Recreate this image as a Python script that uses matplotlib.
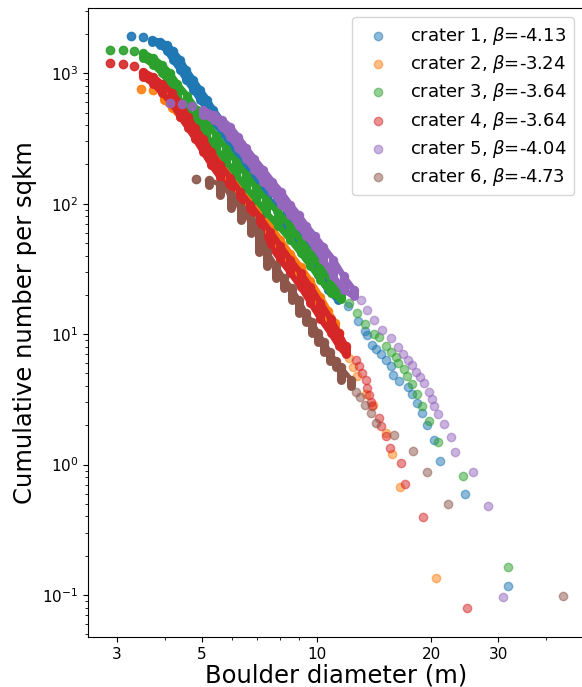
import matplotlib
matplotlib.use('Agg')
import matplotlib.pyplot as plt
from matplotlib.ticker import NullFormatter

labels = ['crater 1, $\\beta$=-4.13', 'crater 2, $\\beta$=-3.24', 'crater 3, $\\beta$=-3.64',
          'crater 4, $\\beta$=-3.64', 'crater 5, $\\beta$=-4.04', 'crater 6, $\\beta$=-4.73']
colors = ['#1f77b4', '#ff7f0e', '#2ca02c', '#d62728', '#9467bd', '#8c564b']

# leading isolated points (smallest diameters)
c1_head_d = [3.26, 3.50]
c1_head_n = [1915, 1882]
# dense part: diameters of columns, cumulative density at column tops (+ final bottom)
c1_col_d = [3.70, 3.89, 4.05, 4.20, 4.39, 4.55, 4.75, 4.95, 5.17, 5.36, 5.66, 5.94,
            6.23, 6.58, 6.99, 7.43, 7.90, 8.39, 8.91, 9.47, 10.06, 10.69, 11.36]
c1_col_n = [1807, 1744, 1655, 1488, 1269, 1064, 892, 747, 626, 525, 425, 350, 283, 229,
            182, 145, 113, 88.2, 67.6, 51.1, 38.5, 28.5, 21.9, 18.3]
# sparse tail (largest boulders)
c1_tail_d = [12.07, 12.82, 13.38, 13.6, 14.02, 14.30, 14.74, 15.19, 15.65, 15.91, 16.41, 17.33,
             17.78, 18.30, 18.89, 19.48, 20.29, 21.07, 24.52, 31.87]
c1_tail_n = [16.5, 12.6, 10.6, 9.88, 8.28, 7.67, 7.06, 6.35, 5.71, 4.87, 4.41, 3.92, 3.47, 2.96,
             2.50, 2.02, 1.55, 1.07, 0.593, 0.118]

c2_head_d = [3.46, 3.73]
c2_head_n = [756, 747]
c2_col_d = [3.97, 4.18, 4.39, 4.60, 4.83, 5.07, 5.33, 5.59, 5.94, 6.31, 6.71, 7.12,
            7.57, 8.04, 8.54, 9.08, 9.64, 10.24, 10.75, 11.15, 11.43]
c2_col_n = [705, 626, 544, 464, 396, 332, 273, 221, 176, 137, 109, 86.7, 67.7, 52.9,
            41.3, 32.8, 25.6, 19.3, 15.1, 12.2, 10.2, 8.6]
c2_tail_d = [11.64, 12.14, 12.44, 12.74, 13.46, 14.04, 15.19, 15.75, 16.53, 20.57]
c2_tail_n = [8.13, 6.58, 5.61, 4.79, 3.48, 2.87, 1.76, 1.20, 0.671, 0.1345]

c3_head_d = [2.88, 3.11, 3.32]
c3_head_n = [1515, 1496, 1470]
c3_col_d = [3.51, 3.73, 3.93, 4.13, 4.31, 4.58, 4.86, 5.14, 5.46, 5.80, 6.16,
            6.54, 6.95, 7.39, 7.94, 8.54, 9.08, 9.64, 10.24, 10.89, 11.57]
c3_col_n = [1429, 1308, 1162, 1003, 831, 672, 525, 425, 332, 264, 210, 167,
            132, 107, 85.2, 67.7, 52.9, 42.0, 33.4, 26.1, 20.7, 18.5]
c3_tail_d = [12.14, 12.74, 13.38, 14.15, 14.58, 15.19, 15.65, 16.14, 16.31, 16.97, 17.25, 17.78,
             18.33, 18.86, 19.75, 20.86, 24.27, 31.87]
c3_tail_n = [17.4, 14.6, 12.0, 10.05, 9.48, 8.13, 7.36, 6.73, 6.06, 5.39, 4.81, 4.16, 3.48, 2.82,
             2.16, 1.485, 0.823, 0.165]

c4_head_d = [2.88, 3.11, 3.32]
c4_head_n = [1197, 1177, 1128]
c4_col_d = [3.51, 3.73, 3.93, 4.18, 4.39, 4.60, 4.80, 5.04, 5.29, 5.59, 5.94,
            6.31, 6.71, 7.12, 7.57, 8.04, 8.54, 9.08, 9.64, 10.24, 10.89, 11.43, 11.92]
c4_col_n = [1032, 940, 831, 709, 584, 464, 382, 315, 250, 199, 158, 123, 98.1,
            78.0, 60.9, 47.5, 37.1, 29.5, 23.0, 17.4, 13.1, 10.2, 8.13, 7.0]
c4_tail_d = [12.67, 12.93, 13.20, 13.46, 13.60, 13.70, 13.87, 14.00, 14.58, 14.74, 15.25, 15.56,
             16.63, 17.07, 19.04, 24.82]
c4_tail_n = [6.35, 5.65, 5.03, 4.46, 3.86, 3.43, 3.04, 2.79, 2.29, 1.96, 1.66, 1.34, 1.025,
             0.711, 0.395, 0.0792]

c5_head_d = [4.13, 4.43, 4.72]
c5_head_n = [591, 584, 563]
c5_col_d = [5.05, 5.37, 5.65, 5.94, 6.23, 6.54, 6.87, 7.25, 7.66, 8.09, 8.54,
            8.97, 9.41, 9.88, 10.43, 11.08, 11.78, 12.52]
c5_col_n = [525, 481, 440, 389, 326, 268, 221, 182, 148, 122, 98.1, 82.2, 67.7,
            56.7, 46.7, 37.1, 27.7, 21.9, 19.5]
c5_tail_d = [13.06, 13.60, 14.15, 14.89, 15.65, 16.31, 16.81, 17.33, 17.78, 18.22, 18.67, 19.09,
             19.75, 20.04, 20.29, 20.78, 21.63, 22.52, 23.03, 25.69, 28.24, 30.81]
c5_tail_n = [18.3, 15.4, 12.9, 10.8, 9.32, 8.03, 7.06, 6.35, 5.81, 5.17, 4.73, 4.21, 3.59, 3.19,
             2.82, 2.43, 2.04, 1.64, 1.258, 0.874, 0.485, 0.0972]

c6_head_d = [4.83]
c6_head_n = [155]
c6_col_d = [5.21, 5.59, 5.96, 6.33, 6.73, 7.08, 7.42, 7.83, 8.20, 8.60, 8.98, 9.36, 9.74,
            10.09, 10.45, 10.82, 11.22, 11.57, 12.34]
c6_col_n = [153, 140, 117, 93.0, 75.2, 59.8, 42.8, 33.4, 27.0, 22.6, 18.3, 14.6, 12.4, 10.2,
            8.73, 7.32, 6.24, 5.61, 4.46, 4.01]
c6_tail_d = [12.72, 12.98, 13.40, 13.93, 14.30, 15.97, 17.86, 19.48, 22.08, 44.33]
c6_tail_n = [3.63, 3.29, 2.87, 2.48, 2.08, 1.68, 1.28, 0.884, 0.497, 0.0989]

xticks = [3, 5, 10, 20, 30]
xticklabels = ['3', '5', '10', '20', '30']

series = [
    (c1_head_d, c1_head_n, c1_col_d, c1_col_n, c1_tail_d, c1_tail_n),
    (c2_head_d, c2_head_n, c2_col_d, c2_col_n, c2_tail_d, c2_tail_n),
    (c3_head_d, c3_head_n, c3_col_d, c3_col_n, c3_tail_d, c3_tail_n),
    (c4_head_d, c4_head_n, c4_col_d, c4_col_n, c4_tail_d, c4_tail_n),
    (c5_head_d, c5_head_n, c5_col_d, c5_col_n, c5_tail_d, c5_tail_n),
    (c6_head_d, c6_head_n, c6_col_d, c6_col_n, c6_tail_d, c6_tail_n),
]
# style: width of the band edges joining the columns (crater 6 keeps distinct columns)
top_lw = [4.5, 4.5, 4.5, 4.5, 4.5, 3.5]
bot_lw = [4.5, 4.5, 4.5, 4.5, 4.5, 0]

W, H = 582, 687
fig = plt.figure(figsize=(W / 100, H / 100), dpi=100)
ax = fig.add_axes([88.3 / W, 1 - 637.3 / H, (583 - 88.3) / W, (637.3 - 8.3) / H])
ax.set_xscale('log')
ax.set_yscale('log')

for (hd, hn, cd, cn, td, tn), col, lab, tl, bl in zip(series, colors, labels, top_lw, bot_lw):
    # overlapping boulders of equal diameter form solid columns
    lc = ax.vlines(cd, cn[1:], cn[:-1], colors=col, linewidth=6.5, zorder=2)
    lc.set_capstyle('round')
    ax.plot(cd, cn[:-1], color=col, linewidth=tl, solid_capstyle='round',
            solid_joinstyle='round', zorder=2)
    if bl > 0:
        ax.plot(cd, cn[1:], color=col, linewidth=bl, solid_capstyle='round',
                solid_joinstyle='round', zorder=2)
    ax.scatter(hd, hn, s=36, color=col, alpha=0.9, zorder=2)
    ax.scatter(list(cd) + list(td), list(cn[:-1]) + list(tn), s=36, color=col, alpha=0.5,
               label=lab, zorder=2)

ax.set_xlim(2.52, 50)
ax.set_ylim(0.0474, 3150)
ax.set_xticks(xticks)
ax.set_xticklabels(xticklabels)
ax.xaxis.set_minor_formatter(NullFormatter())
ax.tick_params(axis='both', which='major', labelsize=11)

ax.set_xlabel('Boulder diameter (m)', fontsize=17.5, labelpad=1)
ax.set_ylabel('Cumulative number per sqkm', fontsize=17.5)
ax.legend(loc='upper right', fontsize=13, labelspacing=0.35)

fig.savefig('out.png', dpi=100)
